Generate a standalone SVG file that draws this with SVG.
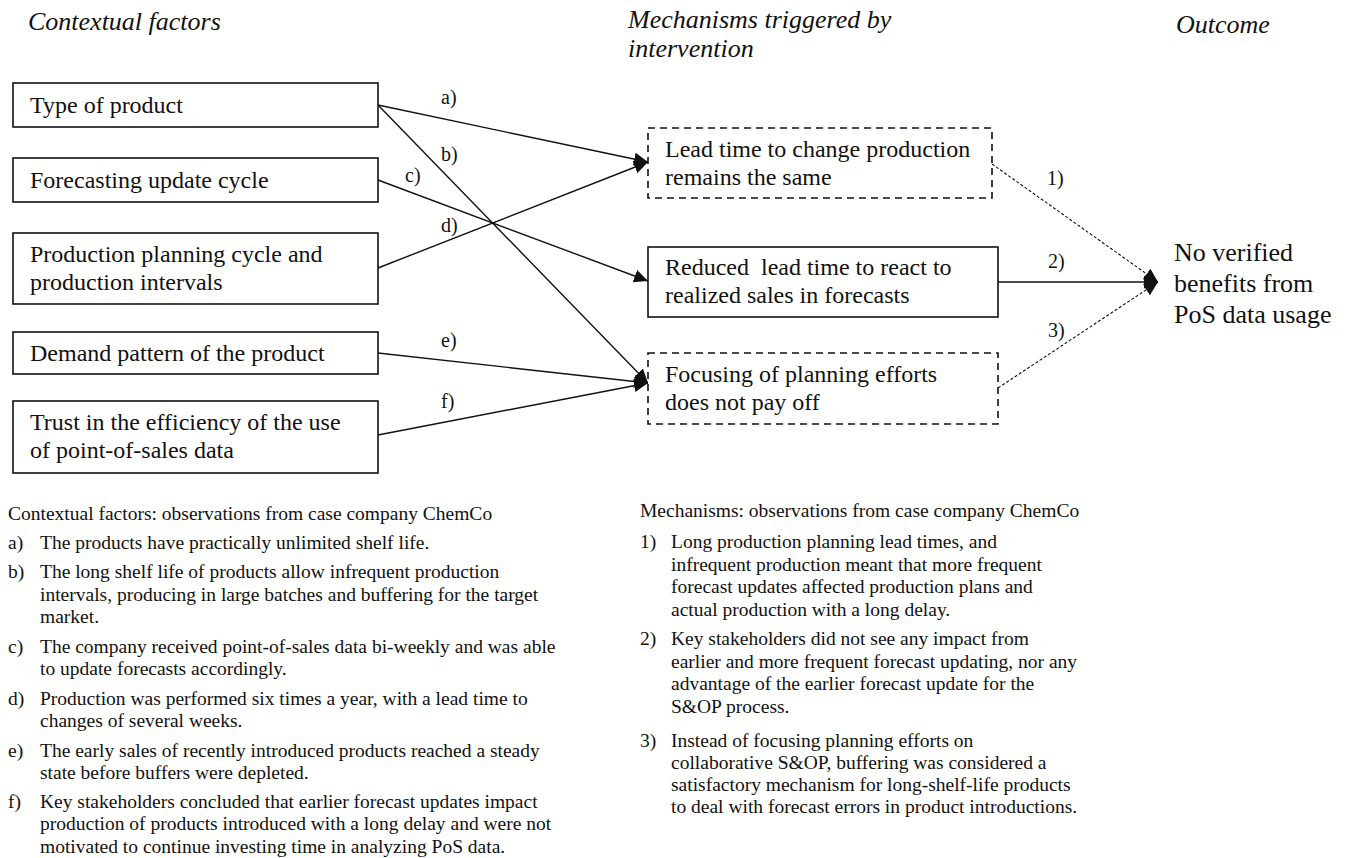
<svg xmlns="http://www.w3.org/2000/svg" width="1350" height="858" viewBox="0 0 1350 858">
<style>
  text { font-family: "Liberation Serif", "Times New Roman", serif; fill: #111; }
  .title { font-size: 26px; font-style: italic; }
  .box { fill: #fff; stroke: #111; stroke-width: 1.6; }
  .dbox { fill: #fff; stroke: #111; stroke-width: 1.6; stroke-dasharray: 7 5; }
  .bt { font-size: 24px; }
  .out { font-size: 26px; }
  .lbl { font-size: 20px; }
  .con { stroke: #111; stroke-width: 1.4; fill: none; }
  .dcon { stroke: #111; stroke-width: 1.1; fill: none; stroke-dasharray: 3 2; }
  .note { font-size: 19.5px; }
</style>
<defs>
  <marker id="arr" markerUnits="userSpaceOnUse" markerWidth="16" markerHeight="14" refX="14" refY="6.5" orient="auto">
    <path d="M0,0 L14,6.5 L0,13 Z" fill="#111"/>
  </marker>
</defs>
<rect width="1350" height="858" fill="#fff"/>

<g id="titles">
  <text class="title" x="28" y="30">Contextual factors</text>
  <text class="title" x="628" y="28">Mechanisms triggered by</text>
  <text class="title" x="628" y="57">intervention</text>
  <text class="title" x="1176" y="33">Outcome</text>
</g>

<g id="connectors">
  <line class="con" x1="378" y1="105" x2="648" y2="162" marker-end="url(#arr)"/>
  <line class="con" x1="378" y1="105" x2="648" y2="383" marker-end="url(#arr)"/>
  <line class="con" x1="378" y1="180" x2="648" y2="281" marker-end="url(#arr)"/>
  <line class="con" x1="378" y1="268" x2="648" y2="162" marker-end="url(#arr)"/>
  <line class="con" x1="378" y1="353" x2="648" y2="383" marker-end="url(#arr)"/>
  <line class="con" x1="378" y1="435" x2="648" y2="383" marker-end="url(#arr)"/>
  <line class="dcon" x1="992" y1="164" x2="1158" y2="282" marker-end="url(#arr)"/>
  <line class="con" x1="998" y1="282" x2="1158" y2="282" marker-end="url(#arr)"/>
  <line class="dcon" x1="998" y1="388" x2="1158" y2="282" marker-end="url(#arr)"/>
  <text class="lbl" x="441" y="104">a)</text>
  <text class="lbl" x="441" y="161">b)</text>
  <text class="lbl" x="405" y="182">c)</text>
  <text class="lbl" x="441" y="232">d)</text>
  <text class="lbl" x="441" y="347">e)</text>
  <text class="lbl" x="441" y="408">f)</text>
  <text class="lbl" x="1047" y="185">1)</text>
  <text class="lbl" x="1048" y="268">2)</text>
  <text class="lbl" x="1048" y="337">3)</text>
</g>

<g id="n-type">
  <rect class="box" x="13" y="83" width="365" height="44"/>
  <text class="bt" x="30" y="113">Type of product</text>
</g>
<g id="n-forecast">
  <rect class="box" x="13" y="158" width="365" height="44"/>
  <text class="bt" x="30" y="188">Forecasting update cycle</text>
</g>
<g id="n-production">
  <rect class="box" x="13" y="233" width="365" height="71"/>
  <text class="bt" x="30" y="262">Production planning cycle and</text>
  <text class="bt" x="30" y="290">production intervals</text>
</g>
<g id="n-demand">
  <rect class="box" x="13" y="332" width="365" height="42"/>
  <text class="bt" x="30" y="361">Demand pattern of the product</text>
</g>
<g id="n-trust">
  <rect class="box" x="13" y="401" width="365" height="72"/>
  <text class="bt" x="30" y="430">Trust in the efficiency of the use</text>
  <text class="bt" x="30" y="458">of point-of-sales data</text>
</g>

<g id="m-leadtime">
  <rect class="dbox" x="648" y="128" width="344" height="70"/>
  <text class="bt" x="665" y="157">Lead time to change production</text>
  <text class="bt" x="665" y="185">remains the same</text>
</g>
<g id="m-reduced">
  <rect class="box" x="648" y="247" width="350" height="70"/>
  <text class="bt" x="665" y="275" xml:space="preserve">Reduced  lead time to react to</text>
  <text class="bt" x="665" y="303">realized sales in forecasts</text>
</g>
<g id="m-focusing">
  <rect class="dbox" x="648" y="353" width="350" height="71"/>
  <text class="bt" x="665" y="382">Focusing of planning efforts</text>
  <text class="bt" x="665" y="410">does not pay off</text>
</g>

<g id="outcome">
  <text class="out" x="1174" y="261">No verified</text>
  <text class="out" x="1174" y="292">benefits from</text>
  <text class="out" x="1174" y="323">PoS data usage</text>
</g>

<g id="notes-left">
  <text class="note" x="8" y="520">Contextual factors: observations from case company ChemCo</text>
  <text class="note" x="8" y="549">a)</text>
  <text class="note" x="40" y="549">The products have practically unlimited shelf life.</text>
  <text class="note" x="8" y="578">b)</text>
  <text class="note" x="40" y="578">The long shelf life of products allow infrequent production</text>
  <text class="note" x="40" y="601">intervals, producing in large batches and buffering for the target</text>
  <text class="note" x="40" y="623">market.</text>
  <text class="note" x="8" y="653">c)</text>
  <text class="note" x="40" y="653">The company received point-of-sales data bi-weekly and was able</text>
  <text class="note" x="40" y="675">to update forecasts accordingly.</text>
  <text class="note" x="8" y="705">d)</text>
  <text class="note" x="40" y="705">Production was performed six times a year, with a lead time to</text>
  <text class="note" x="40" y="727">changes of several weeks.</text>
  <text class="note" x="8" y="757">e)</text>
  <text class="note" x="40" y="757">The early sales of recently introduced products reached a steady</text>
  <text class="note" x="40" y="779">state before buffers were depleted.</text>
  <text class="note" x="8" y="808">f)</text>
  <text class="note" x="40" y="808">Key stakeholders concluded that earlier forecast updates impact</text>
  <text class="note" x="40" y="830">production of products introduced with a long delay and were not</text>
  <text class="note" x="40" y="853">motivated to continue investing time in analyzing PoS data.</text>
</g>

<g id="notes-right">
  <text class="note" x="640" y="517">Mechanisms: observations from case company ChemCo</text>
  <text class="note" x="640" y="548">1)</text>
  <text class="note" x="671" y="548">Long production planning lead times, and</text>
  <text class="note" x="671" y="571">infrequent production meant that more frequent</text>
  <text class="note" x="671" y="593">forecast updates affected production plans and</text>
  <text class="note" x="671" y="616">actual production with a long delay.</text>
  <text class="note" x="640" y="645">2)</text>
  <text class="note" x="671" y="645">Key stakeholders did not see any impact from</text>
  <text class="note" x="671" y="668">earlier and more frequent forecast updating, nor any</text>
  <text class="note" x="671" y="690">advantage of the earlier forecast update for the</text>
  <text class="note" x="671" y="713">S&amp;OP process.</text>
  <text class="note" x="640" y="747">3)</text>
  <text class="note" x="671" y="747">Instead of focusing planning efforts on</text>
  <text class="note" x="671" y="769">collaborative S&amp;OP, buffering was considered a</text>
  <text class="note" x="671" y="791">satisfactory mechanism for long-shelf-life products</text>
  <text class="note" x="671" y="813">to deal with forecast errors in product introductions.</text>
</g>
</svg>
